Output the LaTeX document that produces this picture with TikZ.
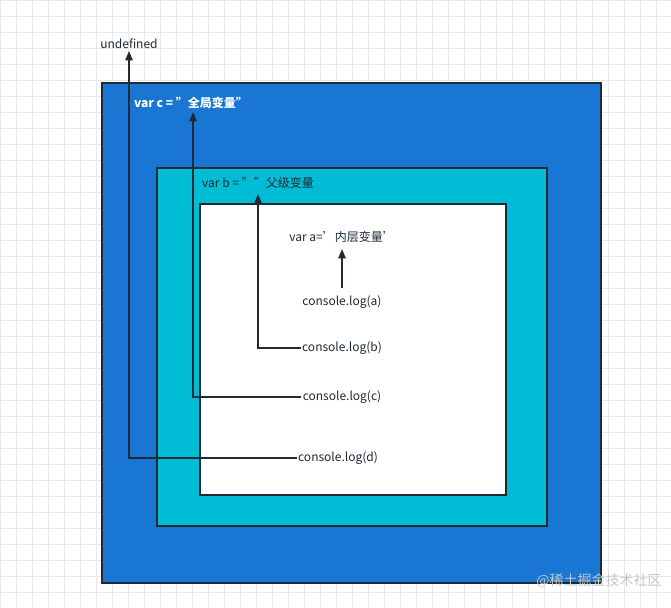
\documentclass[tikz,border=0pt]{standalone}
\usepackage{fontspec}
\setmainfont{Noto Sans CJK SC}
\usetikzlibrary{arrows.meta}
\definecolor{outerblue}{HTML}{1976D2}
\definecolor{midcyan}{HTML}{00BCD4}
\definecolor{edge}{HTML}{1E2A36}
\definecolor{gridc}{HTML}{E8E8E8}
\begin{document}
\begin{tikzpicture}[x=0.75pt,y=-0.75pt,
  box/.style={draw=edge,line width=1.5pt},
  lbl/.style={font=\fontsize{9}{11}\selectfont,text=edge,inner sep=1pt},
  conn/.style={draw=edge,line width=1.3pt,-{Triangle[length=7pt,width=5.5pt]}}]
\useasboundingbox (0,0) rectangle (671,607);
\fill[white] (0,0) rectangle (671,607);
\draw[gridc,line width=0.4pt,step=12pt] (0,0) grid (671,607);
\fill[box,fill=outerblue] (102,83) rectangle (601,583);
\fill[box,fill=midcyan] (157,168) rectangle (547,526);
\fill[box,fill=white] (200,204) rectangle (506,495);
\node[lbl] (und) at (129,44) {undefined};
\node[lbl,text=white,font=\fontsize{9}{11}\selectfont\bfseries] (vc) at (191,103) {var c = "全局变量"};
\node[lbl] (vb) at (258,183) {var b = ""父级变量};
\node[lbl] (va) at (342,237) {var a='内层变量'};
\node[lbl] (la) at (342,302) {console.log(a)};
\node[lbl] (lb) at (342,348) {console.log(b)};
\node[lbl] (lc) at (342,397) {console.log(c)};
\node[lbl] (ld) at (338,458) {console.log(d)};
\node[font=\fontsize{10.5}{12}\selectfont,text=black!22] (wm) at (599,581) {@稀土掘金技术社区};
\draw[conn] (342,288) -- (342,249);
\draw[conn] (lb.west) -| (258,194);
\draw[conn] (lc.west) -| (193,112);
\draw[conn] (ld.west) -| (129,51);
\end{tikzpicture}
\end{document}
